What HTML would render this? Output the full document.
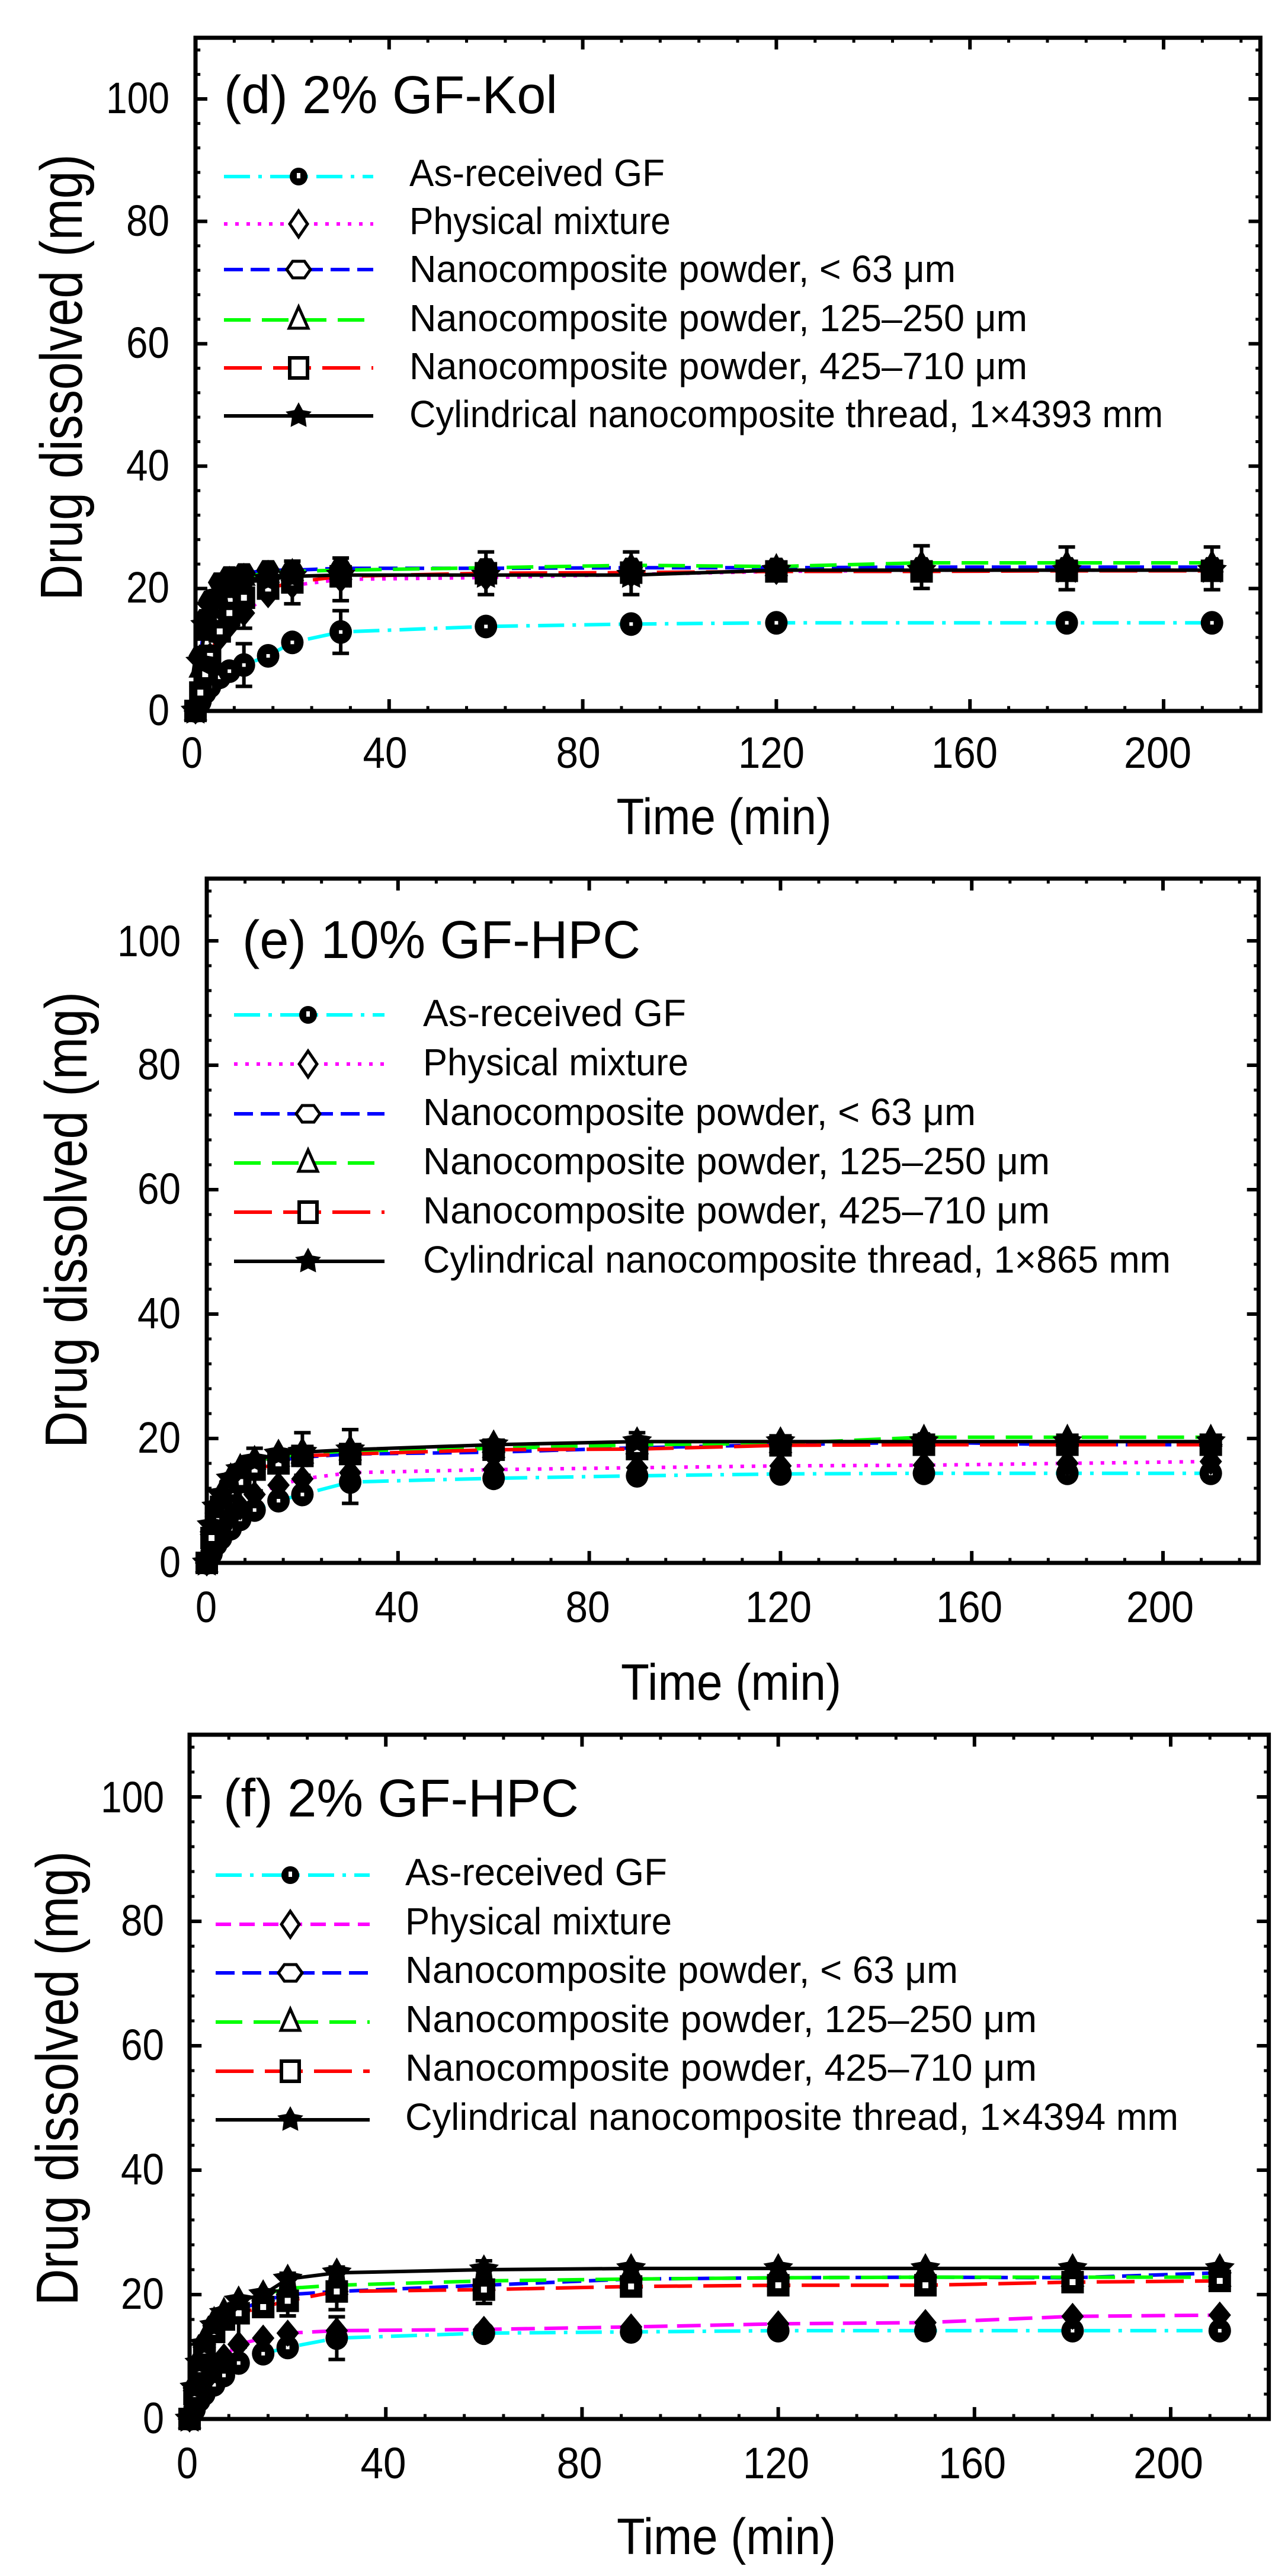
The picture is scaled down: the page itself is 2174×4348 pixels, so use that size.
<!DOCTYPE html>
<html><head><meta charset="utf-8"><style>html,body{margin:0;padding:0;background:#fff}svg{display:block}</style></head>
<body>
<svg xmlns="http://www.w3.org/2000/svg" width="2174" height="4348" viewBox="0 0 2174 4348" font-family="'Liberation Sans', Arial, sans-serif" fill="#000">
<defs>
<g id="axes" fill="none" stroke="#000">
<rect x="0" y="0" width="220" height="110" stroke-width="7" vector-effect="non-scaling-stroke"/>
<path stroke-width="6" vector-effect="non-scaling-stroke" d="M0,0V1.92M40,0V1.92M80,0V1.92M120,0V1.92M160,0V1.92M200,0V1.92M0,110V108.08M40,110V108.08M80,110V108.08M120,110V108.08M160,110V108.08M200,110V108.08M0,20H2.44M0,40H2.44M0,60H2.44M0,80H2.44M0,100H2.44M220,20H217.56M220,40H217.56M220,60H217.56M220,80H217.56M220,100H217.56"/>
<path stroke-width="5" vector-effect="non-scaling-stroke" d="M8,0V.8M16,0V.8M24,0V.8M32,0V.8M48,0V.8M56,0V.8M64,0V.8M72,0V.8M88,0V.8M96,0V.8M104,0V.8M112,0V.8M128,0V.8M136,0V.8M144,0V.8M152,0V.8M168,0V.8M176,0V.8M184,0V.8M192,0V.8M208,0V.8M216,0V.8M8,110V109.2M16,110V109.2M24,110V109.2M32,110V109.2M48,110V109.2M56,110V109.2M64,110V109.2M72,110V109.2M88,110V109.2M96,110V109.2M104,110V109.2M112,110V109.2M128,110V109.2M136,110V109.2M144,110V109.2M152,110V109.2M168,110V109.2M176,110V109.2M184,110V109.2M192,110V109.2M208,110V109.2M216,110V109.2M0,4H1M0,8H1M0,12H1M0,16H1M0,24H1M0,28H1M0,32H1M0,36H1M0,44H1M0,48H1M0,52H1M0,56H1M0,64H1M0,68H1M0,72H1M0,76H1M0,84H1M0,88H1M0,92H1M0,96H1M0,104H1M0,108H1M220,4H219M220,8H219M220,12H219M220,16H219M220,24H219M220,28H219M220,32H219M220,36H219M220,44H219M220,48H219M220,52H219M220,56H219M220,64H219M220,68H219M220,72H219M220,76H219M220,84H219M220,88H219M220,92H219M220,96H219M220,104H219M220,108H219"/>
</g>
<g id="mC"><ellipse rx="19" ry="20" fill="#000"/><rect x="-3" y="-3" width="6" height="6" fill="#fff"/></g>
<path id="mD" d="M0,-23L19,0L0,23L-19,0Z" fill="#000"/>
<path id="mH" d="M-20,0L-10,-17L10,-17L20,0L10,17L-10,17Z" fill="#000"/>
<path id="mT" d="M0,-23L20,16L-20,16Z" fill="#000"/>
<g id="mQ"><rect x="-19" y="-19" width="38" height="38" fill="#000"/><rect x="-5" y="-5" width="10" height="10" fill="#fff"/></g>
<path id="mS" d="M0,-26L8.2,-11.2L25.2,-8.2L13.1,4.3L15.5,21.4L0,13.8L-15.5,21.4L-13.1,4.3L-25.2,-8.2L-8.2,-11.2Z" fill="#000"/>
<path id="mE" d="M0,-36V36M-14,-36H14M-14,36H14" stroke="#000" stroke-width="6" fill="none"/>
<g id="lC"><circle r="15" fill="#000"/><rect x="-3" y="-6" width="6" height="9" fill="#fff"/></g>
<path id="lD" d="M0,-22L15,0L0,22L-15,0Z" fill="#fff" stroke="#000" stroke-width="5"/>
<path id="lH" d="M-20,0L-10,-14L10,-14L20,0L10,14L-10,14Z" fill="#fff" stroke="#000" stroke-width="5"/>
<path id="lT" d="M0,-22L16,14L-16,14Z" fill="#fff" stroke="#000" stroke-width="5"/>
<rect id="lQ" x="-15" y="-17" width="30" height="34" fill="#fff" stroke="#000" stroke-width="6"/>
<path id="lS" d="M0,-23L7.1,-9.7L21.9,-7.1L11.4,3.7L13.5,18.6L0,12L-13.5,18.6L-11.4,3.7L-21.9,-7.1L-7.1,-9.7Z" fill="#000"/>
<g id="dC"><use href="#mC" transform="scale(.1224,-.09681)"/></g>
<g id="dD"><use href="#mD" transform="scale(.1224,-.09681)"/></g>
<g id="dH"><use href="#mH" transform="scale(.1224,-.09681)"/></g>
<g id="dT"><use href="#mT" transform="scale(.1224,-.09681)"/></g>
<g id="dQ"><use href="#mQ" transform="scale(.1224,-.09681)"/></g>
<g id="dS"><use href="#mS" transform="scale(.1224,-.09681)"/></g>
<g id="dE"><use href="#mE" transform="scale(.1224,-.09681)"/></g>
<g id="eC"><use href="#mC" transform="scale(.12392,-.095238)"/></g>
<g id="eD"><use href="#mD" transform="scale(.12392,-.095238)"/></g>
<g id="eH"><use href="#mH" transform="scale(.12392,-.095238)"/></g>
<g id="eT"><use href="#mT" transform="scale(.12392,-.095238)"/></g>
<g id="eQ"><use href="#mQ" transform="scale(.12392,-.095238)"/></g>
<g id="eS"><use href="#mS" transform="scale(.12392,-.095238)"/></g>
<g id="eE"><use href="#mE" transform="scale(.12392,-.095238)"/></g>
<g id="fC"><use href="#mC" transform="scale(.12077,-.095238)"/></g>
<g id="fD"><use href="#mD" transform="scale(.12077,-.095238)"/></g>
<g id="fH"><use href="#mH" transform="scale(.12077,-.095238)"/></g>
<g id="fT"><use href="#mT" transform="scale(.12077,-.095238)"/></g>
<g id="fQ"><use href="#mQ" transform="scale(.12077,-.095238)"/></g>
<g id="fS"><use href="#mS" transform="scale(.12077,-.095238)"/></g>
<g id="fE"><use href="#mE" transform="scale(.12077,-.095238)"/></g>
</defs>

<!-- ================= PANEL D ================= -->
<g transform="translate(330,1200) scale(8.17,-10.33)">
<use href="#axes"/>
<g fill="none" stroke-width="6">
<polyline vector-effect="non-scaling-stroke" stroke="#00ffff" stroke-dasharray="44 14 6 14" points="0,0 1,1.5 2,3 3,4 5,5.5 7,6.5 10,7.5 15,9 20,11.2 30,12.9 60,13.8 90,14.2 120,14.4 150,14.4 180,14.4 210,14.4"/>
<polyline vector-effect="non-scaling-stroke" stroke="#ff00ff" stroke-dasharray="6 13" points="0,0 1,4 2,7 3,9 5,12 7,14 10,16 15,19 20,20.5 30,21.5 60,21.8 90,22.3 120,22.8 150,23 180,23 210,23"/>
<polyline vector-effect="non-scaling-stroke" stroke="#0000ff" stroke-dasharray="32 13" points="0,0 1,9 2,15 3,18 5,21 7,22 10,22.5 15,23 20,23 30,23.3 60,23.3 90,23.4 120,23.4 150,23.5 180,23.5 210,23.5"/>
<polyline vector-effect="non-scaling-stroke" stroke="#00ff00" stroke-dasharray="45 19" points="0,0 1,7 2,13 3,17 5,20 7,21.5 10,22 15,22.5 20,22.8 30,23 60,23.4 90,23.8 120,23.6 150,24.2 180,24.2 210,24.2"/>
<polyline vector-effect="non-scaling-stroke" stroke="#ff0000" stroke-dasharray="64 19" points="0,0 1,3 2,6 3,9 5,13 7,16 10,18.5 15,20 20,21 30,22 60,22.5 90,22.6 120,22.8 150,22.8 180,22.9 210,22.9"/>
<polyline vector-effect="non-scaling-stroke" stroke="#000" points="0,0 1,8 2,14 3,17 5,19 7,20 10,21 15,21.5 20,22 30,22.2 60,22.2 90,22.2 120,23 150,23 180,23 210,23"/>
</g>
<use href="#dE" x="10" y="17"/><use href="#dE" x="30" y="21.5"/><use href="#dE" x="20" y="21"/><use href="#dE" x="60" y="22.5"/><use href="#dE" x="90" y="22.5"/><use href="#dE" x="150" y="23.5"/><use href="#dE" x="180" y="23.3"/><use href="#dE" x="210" y="23.3"/><use href="#dE" x="30" y="12.9"/><use href="#dE" x="10" y="7.5"/>
<use href="#dC" x="0" y="0"/><use href="#dC" x="1" y="1.5"/><use href="#dC" x="2" y="3"/><use href="#dC" x="3" y="4"/><use href="#dC" x="5" y="5.5"/><use href="#dC" x="7" y="6.5"/><use href="#dC" x="10" y="7.5"/><use href="#dC" x="15" y="9"/><use href="#dC" x="20" y="11.2"/><use href="#dC" x="30" y="12.9"/><use href="#dC" x="60" y="13.8"/><use href="#dC" x="90" y="14.2"/><use href="#dC" x="120" y="14.4"/><use href="#dC" x="180" y="14.4"/><use href="#dC" x="210" y="14.4"/>
<use href="#dD" x="0" y="0"/><use href="#dD" x="1" y="4"/><use href="#dD" x="2" y="7"/><use href="#dD" x="3" y="9"/><use href="#dD" x="5" y="12"/><use href="#dD" x="7" y="14"/><use href="#dD" x="10" y="16"/><use href="#dD" x="15" y="19"/><use href="#dD" x="20" y="20.5"/><use href="#dD" x="30" y="21.5"/><use href="#dD" x="60" y="21.8"/><use href="#dD" x="90" y="22.3"/><use href="#dD" x="120" y="22.8"/><use href="#dD" x="150" y="23"/><use href="#dD" x="180" y="23"/><use href="#dD" x="210" y="23"/>
<use href="#dH" x="0" y="0"/><use href="#dH" x="1" y="9"/><use href="#dH" x="2" y="15"/><use href="#dH" x="3" y="18"/><use href="#dH" x="5" y="21"/><use href="#dH" x="7" y="22"/><use href="#dH" x="10" y="22.5"/><use href="#dH" x="15" y="23"/><use href="#dH" x="20" y="23"/><use href="#dH" x="30" y="23.3"/><use href="#dH" x="60" y="23.3"/><use href="#dH" x="90" y="23.4"/><use href="#dH" x="120" y="23.4"/><use href="#dH" x="150" y="23.5"/><use href="#dH" x="180" y="23.5"/><use href="#dH" x="210" y="23.5"/>
<use href="#dT" x="0" y="0"/><use href="#dT" x="1" y="7"/><use href="#dT" x="2" y="13"/><use href="#dT" x="3" y="17"/><use href="#dT" x="5" y="20"/><use href="#dT" x="7" y="21.5"/><use href="#dT" x="10" y="22"/><use href="#dT" x="15" y="22.5"/><use href="#dT" x="20" y="22.8"/><use href="#dT" x="30" y="23"/><use href="#dT" x="60" y="23.4"/><use href="#dT" x="90" y="23.8"/><use href="#dT" x="120" y="23.6"/><use href="#dT" x="150" y="24.2"/><use href="#dT" x="180" y="24.2"/><use href="#dT" x="210" y="24.2"/>
<use href="#dQ" x="0" y="0"/><use href="#dQ" x="1" y="3"/><use href="#dQ" x="2" y="6"/><use href="#dQ" x="3" y="9"/><use href="#dQ" x="5" y="13"/><use href="#dQ" x="7" y="16"/><use href="#dQ" x="10" y="18.5"/><use href="#dQ" x="15" y="20"/><use href="#dQ" x="20" y="21"/><use href="#dQ" x="30" y="22"/><use href="#dQ" x="60" y="22.5"/><use href="#dQ" x="90" y="22.6"/><use href="#dQ" x="120" y="22.8"/><use href="#dQ" x="150" y="22.8"/><use href="#dQ" x="180" y="22.9"/><use href="#dQ" x="210" y="22.9"/>
<use href="#dS" x="0" y="0"/><use href="#dS" x="1" y="8"/><use href="#dS" x="2" y="14"/><use href="#dS" x="3" y="17"/><use href="#dS" x="5" y="19"/><use href="#dS" x="7" y="20"/><use href="#dS" x="10" y="21"/><use href="#dS" x="15" y="21.5"/><use href="#dS" x="20" y="22"/><use href="#dS" x="30" y="22.2"/><use href="#dS" x="60" y="22.2"/><use href="#dS" x="90" y="22.2"/><use href="#dS" x="120" y="23"/><use href="#dS" x="150" y="23"/><use href="#dS" x="180" y="23"/><use href="#dS" x="210" y="23"/>
</g>
<g font-size="74">
<text x="286" y="1224" text-anchor="end" textLength="36" lengthAdjust="spacingAndGlyphs">0</text>
<text x="286" y="1017" text-anchor="end" textLength="73" lengthAdjust="spacingAndGlyphs">20</text>
<text x="286" y="811" text-anchor="end" textLength="73" lengthAdjust="spacingAndGlyphs">40</text>
<text x="286" y="604" text-anchor="end" textLength="73" lengthAdjust="spacingAndGlyphs">60</text>
<text x="286" y="398" text-anchor="end" textLength="73" lengthAdjust="spacingAndGlyphs">80</text>
<text x="286" y="191" text-anchor="end" textLength="107" lengthAdjust="spacingAndGlyphs">100</text>
<text x="324" y="1296" text-anchor="middle" textLength="36" lengthAdjust="spacingAndGlyphs">0</text>
<text x="650" y="1296" text-anchor="middle" textLength="75" lengthAdjust="spacingAndGlyphs">40</text>
<text x="976" y="1296" text-anchor="middle" textLength="75" lengthAdjust="spacingAndGlyphs">80</text>
<text x="1302" y="1296" text-anchor="middle" textLength="112" lengthAdjust="spacingAndGlyphs">120</text>
<text x="1628" y="1296" text-anchor="middle" textLength="112" lengthAdjust="spacingAndGlyphs">160</text>
<text x="1954" y="1296" text-anchor="middle" textLength="114" lengthAdjust="spacingAndGlyphs">200</text>
</g>
<text x="1222" y="1408" font-size="86" text-anchor="middle" textLength="363" lengthAdjust="spacingAndGlyphs">Time (min)</text>
<text transform="translate(138,637) rotate(-90)" font-size="100" text-anchor="middle" textLength="753" lengthAdjust="spacingAndGlyphs">Drug dissolved (mg)</text>
<text x="378" y="191" font-size="90" textLength="563" lengthAdjust="spacingAndGlyphs">(d) 2% GF-Kol</text>
<g fill="none" stroke-width="6">
<line x1="378" y1="298" x2="630" y2="298" stroke="#00ffff" stroke-dasharray="44 14 6 14"/>
<line x1="378" y1="378" x2="630" y2="378" stroke="#ff00ff" stroke-dasharray="6 13"/>
<line x1="378" y1="455" x2="630" y2="455" stroke="#0000ff" stroke-dasharray="32 13"/>
<line x1="378" y1="540" x2="630" y2="540" stroke="#00ff00" stroke-dasharray="45 19"/>
<line x1="378" y1="621" x2="630" y2="621" stroke="#ff0000" stroke-dasharray="64 19"/>
<line x1="378" y1="702" x2="630" y2="702" stroke="#000"/>
</g>
<use href="#lC" x="504" y="298"/><use href="#lD" x="504" y="378"/><use href="#lH" x="504" y="455"/><use href="#lT" x="504" y="540"/><use href="#lQ" x="504" y="621"/><use href="#lS" x="504" y="702"/>
<g font-size="64">
<text x="691" y="314" textLength="431" lengthAdjust="spacingAndGlyphs">As-received GF</text>
<text x="691" y="395" textLength="441" lengthAdjust="spacingAndGlyphs">Physical mixture</text>
<text x="691" y="476" textLength="922" lengthAdjust="spacingAndGlyphs">Nanocomposite powder, &lt; 63 μm</text>
<text x="691" y="559" textLength="1043" lengthAdjust="spacingAndGlyphs">Nanocomposite powder, 125–250 μm</text>
<text x="691" y="640" textLength="1043" lengthAdjust="spacingAndGlyphs">Nanocomposite powder, 425–710 μm</text>
<text x="691" y="721" textLength="1272" lengthAdjust="spacingAndGlyphs">Cylindrical nanocomposite thread, 1×4393 mm</text>
</g>

<!-- ================= PANEL E ================= -->
<g transform="translate(349,2638) scale(8.07,-10.5)">
<use href="#axes"/>
<g fill="none" stroke-width="6">
<polyline vector-effect="non-scaling-stroke" stroke="#00ffff" stroke-dasharray="44 14 6 14" points="0,0 1,1.5 2,3 3,4 5,5.5 7,7 10,8.5 15,10 20,11 30,13 60,13.6 90,14 120,14.3 150,14.4 180,14.4 210,14.4"/>
<polyline vector-effect="non-scaling-stroke" stroke="#ff00ff" stroke-dasharray="6 13" points="0,0 1,2 2,4 3,5.5 5,7.5 7,9 10,11 15,12.5 20,13.5 30,14.5 60,15 90,15.3 120,15.6 150,15.7 180,16 210,16.3"/>
<polyline vector-effect="non-scaling-stroke" stroke="#0000ff" stroke-dasharray="32 13" points="0,0 1,5 2,8 3,10 5,13 7,14.5 10,15.5 15,16.5 20,17 30,17.5 60,17.8 90,18.5 120,19 150,19.4 180,19 210,19"/>
<polyline vector-effect="non-scaling-stroke" stroke="#00ff00" stroke-dasharray="45 19" points="0,0 1,6 2,9 3,11 5,14 7,15.5 10,16.5 15,17 20,17.5 30,18 60,18.4 90,19 120,19.2 150,20.2 180,20.2 210,20.2"/>
<polyline vector-effect="non-scaling-stroke" stroke="#ff0000" stroke-dasharray="64 19" points="0,0 1,4 2,7 3,9 5,11.5 7,13 10,15 15,16 20,17.2 30,17.5 60,18.2 90,18.3 120,18.9 150,19 180,19 210,19"/>
<polyline vector-effect="non-scaling-stroke" stroke="#000" points="0,0 1,6 2,9 3,11 5,13.5 7,15 10,16.5 15,17.5 20,17.8 30,18.2 60,19 90,19.5 120,19.5 150,19.5 180,19.5 210,19.5"/>
</g>
<use href="#eE" x="30" y="13"/><use href="#eE" x="30" y="18"/><use href="#eE" x="20" y="17.5"/><use href="#eE" x="90" y="17.5"/><use href="#eE" x="150" y="17"/><use href="#eE" x="10" y="15"/>
<use href="#eC" x="0" y="0"/><use href="#eC" x="1" y="1.5"/><use href="#eC" x="2" y="3"/><use href="#eC" x="3" y="4"/><use href="#eC" x="5" y="5.5"/><use href="#eC" x="7" y="7"/><use href="#eC" x="10" y="8.5"/><use href="#eC" x="15" y="10"/><use href="#eC" x="20" y="11"/><use href="#eC" x="30" y="13"/><use href="#eC" x="60" y="13.6"/><use href="#eC" x="90" y="14"/><use href="#eC" x="120" y="14.3"/><use href="#eC" x="150" y="14.4"/><use href="#eC" x="180" y="14.4"/><use href="#eC" x="210" y="14.4"/>
<use href="#eD" x="0" y="0"/><use href="#eD" x="1" y="2"/><use href="#eD" x="2" y="4"/><use href="#eD" x="3" y="5.5"/><use href="#eD" x="5" y="7.5"/><use href="#eD" x="7" y="9"/><use href="#eD" x="10" y="11"/><use href="#eD" x="15" y="12.5"/><use href="#eD" x="20" y="13.5"/><use href="#eD" x="30" y="14.5"/><use href="#eD" x="60" y="15"/><use href="#eD" x="90" y="15.3"/><use href="#eD" x="120" y="15.6"/><use href="#eD" x="150" y="15.7"/><use href="#eD" x="180" y="16"/><use href="#eD" x="210" y="16.3"/>
<use href="#eH" x="0" y="0"/><use href="#eH" x="1" y="5"/><use href="#eH" x="2" y="8"/><use href="#eH" x="3" y="10"/><use href="#eH" x="5" y="13"/><use href="#eH" x="7" y="14.5"/><use href="#eH" x="10" y="15.5"/><use href="#eH" x="15" y="16.5"/><use href="#eH" x="20" y="17"/><use href="#eH" x="30" y="17.5"/><use href="#eH" x="60" y="17.8"/><use href="#eH" x="90" y="18.5"/><use href="#eH" x="120" y="19"/><use href="#eH" x="150" y="19.4"/><use href="#eH" x="180" y="19"/><use href="#eH" x="210" y="19"/>
<use href="#eT" x="0" y="0"/><use href="#eT" x="1" y="6"/><use href="#eT" x="2" y="9"/><use href="#eT" x="3" y="11"/><use href="#eT" x="5" y="14"/><use href="#eT" x="7" y="15.5"/><use href="#eT" x="10" y="16.5"/><use href="#eT" x="15" y="17"/><use href="#eT" x="20" y="17.5"/><use href="#eT" x="30" y="18"/><use href="#eT" x="60" y="18.4"/><use href="#eT" x="90" y="19"/><use href="#eT" x="120" y="19.2"/><use href="#eT" x="150" y="20.2"/><use href="#eT" x="180" y="20.2"/><use href="#eT" x="210" y="20.2"/>
<use href="#eQ" x="0" y="0"/><use href="#eQ" x="1" y="4"/><use href="#eQ" x="2" y="7"/><use href="#eQ" x="3" y="9"/><use href="#eQ" x="5" y="11.5"/><use href="#eQ" x="7" y="13"/><use href="#eQ" x="10" y="15"/><use href="#eQ" x="15" y="16"/><use href="#eQ" x="20" y="17.2"/><use href="#eQ" x="30" y="17.5"/><use href="#eQ" x="60" y="18.2"/><use href="#eQ" x="90" y="18.3"/><use href="#eQ" x="120" y="18.9"/><use href="#eQ" x="150" y="19"/><use href="#eQ" x="180" y="19"/><use href="#eQ" x="210" y="19"/>
<use href="#eS" x="0" y="0"/><use href="#eS" x="1" y="6"/><use href="#eS" x="2" y="9"/><use href="#eS" x="3" y="11"/><use href="#eS" x="5" y="13.5"/><use href="#eS" x="7" y="15"/><use href="#eS" x="10" y="16.5"/><use href="#eS" x="15" y="17.5"/><use href="#eS" x="20" y="17.8"/><use href="#eS" x="30" y="18.2"/><use href="#eS" x="60" y="19"/><use href="#eS" x="90" y="19.5"/><use href="#eS" x="120" y="19.5"/><use href="#eS" x="150" y="19.5"/><use href="#eS" x="180" y="19.5"/><use href="#eS" x="210" y="19.5"/>
</g>
<g font-size="74">
<text x="305" y="2662" text-anchor="end" textLength="36" lengthAdjust="spacingAndGlyphs">0</text>
<text x="305" y="2452" text-anchor="end" textLength="73" lengthAdjust="spacingAndGlyphs">20</text>
<text x="305" y="2242" text-anchor="end" textLength="73" lengthAdjust="spacingAndGlyphs">40</text>
<text x="305" y="2032" text-anchor="end" textLength="73" lengthAdjust="spacingAndGlyphs">60</text>
<text x="305" y="1822" text-anchor="end" textLength="73" lengthAdjust="spacingAndGlyphs">80</text>
<text x="305" y="1614" text-anchor="end" textLength="107" lengthAdjust="spacingAndGlyphs">100</text>
<text x="348" y="2738" text-anchor="middle" textLength="36" lengthAdjust="spacingAndGlyphs">0</text>
<text x="670" y="2738" text-anchor="middle" textLength="75" lengthAdjust="spacingAndGlyphs">40</text>
<text x="992" y="2738" text-anchor="middle" textLength="75" lengthAdjust="spacingAndGlyphs">80</text>
<text x="1314" y="2738" text-anchor="middle" textLength="112" lengthAdjust="spacingAndGlyphs">120</text>
<text x="1636" y="2738" text-anchor="middle" textLength="112" lengthAdjust="spacingAndGlyphs">160</text>
<text x="1958" y="2738" text-anchor="middle" textLength="114" lengthAdjust="spacingAndGlyphs">200</text>
</g>
<text x="1234" y="2869" font-size="86" text-anchor="middle" textLength="372" lengthAdjust="spacingAndGlyphs">Time (min)</text>
<text transform="translate(146,2059) rotate(-90)" font-size="100" text-anchor="middle" textLength="770" lengthAdjust="spacingAndGlyphs">Drug dissolved (mg)</text>
<text x="409" y="1617" font-size="90" textLength="672" lengthAdjust="spacingAndGlyphs">(e) 10% GF-HPC</text>
<g fill="none" stroke-width="6">
<line x1="395" y1="1713" x2="649" y2="1713" stroke="#00ffff" stroke-dasharray="44 14 6 14"/>
<line x1="395" y1="1796" x2="649" y2="1796" stroke="#ff00ff" stroke-dasharray="6 13"/>
<line x1="395" y1="1880" x2="649" y2="1880" stroke="#0000ff" stroke-dasharray="32 13"/>
<line x1="395" y1="1963" x2="649" y2="1963" stroke="#00ff00" stroke-dasharray="45 19"/>
<line x1="395" y1="2046" x2="649" y2="2046" stroke="#ff0000" stroke-dasharray="64 19"/>
<line x1="395" y1="2129" x2="649" y2="2129" stroke="#000"/>
</g>
<use href="#lC" x="520" y="1713"/><use href="#lD" x="520" y="1796"/><use href="#lH" x="520" y="1880"/><use href="#lT" x="520" y="1963"/><use href="#lQ" x="520" y="2046"/><use href="#lS" x="520" y="2129"/>
<g font-size="64">
<text x="714" y="1732" textLength="444" lengthAdjust="spacingAndGlyphs">As-received GF</text>
<text x="714" y="1815" textLength="448" lengthAdjust="spacingAndGlyphs">Physical mixture</text>
<text x="714" y="1899" textLength="933" lengthAdjust="spacingAndGlyphs">Nanocomposite powder, &lt; 63 μm</text>
<text x="714" y="1982" textLength="1058" lengthAdjust="spacingAndGlyphs">Nanocomposite powder, 125–250 μm</text>
<text x="714" y="2065" textLength="1058" lengthAdjust="spacingAndGlyphs">Nanocomposite powder, 425–710 μm</text>
<text x="714" y="2148" textLength="1262" lengthAdjust="spacingAndGlyphs">Cylindrical nanocomposite thread, 1×865 mm</text>
</g>

<!-- ================= PANEL F ================= -->
<g transform="translate(320,4083) scale(8.28,-10.5)">
<use href="#axes"/>
<g fill="none" stroke-width="6">
<polyline vector-effect="non-scaling-stroke" stroke="#00ffff" stroke-dasharray="44 14 6 14" points="0,0 1,1.5 2,3 3,4 5,5.5 7,7 10,9 15,10.5 20,11.5 30,13 60,13.8 90,14 120,14.2 150,14.2 180,14.2 210,14.2"/>
<polyline vector-effect="non-scaling-stroke" stroke="#ff00ff" stroke-dasharray="40 16" points="0,0 1,2 2,4 3,6 5,8 7,10 10,12 15,13 20,13.8 30,14.2 60,14.4 90,14.8 120,15.3 150,15.5 180,16.5 210,16.7"/>
<polyline vector-effect="non-scaling-stroke" stroke="#0000ff" stroke-dasharray="32 13" points="0,0 1,5 2,9 3,12 5,15 7,16.5 10,17.5 15,19 20,20 30,20.5 60,21.5 90,22.5 120,22.7 150,22.8 180,22.7 210,23.5"/>
<polyline vector-effect="non-scaling-stroke" stroke="#00ff00" stroke-dasharray="45 19" points="0,0 1,6 2,10 3,13 5,16 7,17.5 10,19 15,20 20,21 30,21.5 60,22.2 90,22.5 120,22.7 150,22.8 180,22.8 210,22.8"/>
<polyline vector-effect="non-scaling-stroke" stroke="#ff0000" stroke-dasharray="64 19" points="0,0 1,4 2,8 3,11 5,14 7,16 10,17 15,18 20,19 30,20.5 60,20.8 90,21.3 120,21.5 150,21.5 180,22 210,22.2"/>
<polyline vector-effect="non-scaling-stroke" stroke="#000" points="0,0 1,5 2,9 3,12 5,15 7,17 10,19 15,20 20,22.5 30,23.5 60,24 90,24.2 120,24.2 150,24.2 180,24.2 210,24.2"/>
</g>
<use href="#fE" x="10" y="15"/><use href="#fE" x="30" y="13"/><use href="#fE" x="20" y="20"/><use href="#fE" x="30" y="21"/><use href="#fE" x="60" y="22"/><use href="#fE" x="5" y="12"/>
<use href="#fC" x="0" y="0"/><use href="#fC" x="1" y="1.5"/><use href="#fC" x="2" y="3"/><use href="#fC" x="3" y="4"/><use href="#fC" x="5" y="5.5"/><use href="#fC" x="7" y="7"/><use href="#fC" x="10" y="9"/><use href="#fC" x="15" y="10.5"/><use href="#fC" x="20" y="11.5"/><use href="#fC" x="30" y="13"/><use href="#fC" x="60" y="13.8"/><use href="#fC" x="90" y="14"/><use href="#fC" x="120" y="14.2"/><use href="#fC" x="150" y="14.2"/><use href="#fC" x="180" y="14.2"/><use href="#fC" x="210" y="14.2"/>
<use href="#fD" x="0" y="0"/><use href="#fD" x="1" y="2"/><use href="#fD" x="2" y="4"/><use href="#fD" x="3" y="6"/><use href="#fD" x="5" y="8"/><use href="#fD" x="7" y="10"/><use href="#fD" x="10" y="12"/><use href="#fD" x="15" y="13"/><use href="#fD" x="20" y="13.8"/><use href="#fD" x="30" y="14.2"/><use href="#fD" x="60" y="14.4"/><use href="#fD" x="90" y="14.8"/><use href="#fD" x="120" y="15.3"/><use href="#fD" x="150" y="15.5"/><use href="#fD" x="180" y="16.5"/><use href="#fD" x="210" y="16.7"/>
<use href="#fH" x="0" y="0"/><use href="#fH" x="1" y="5"/><use href="#fH" x="2" y="9"/><use href="#fH" x="3" y="12"/><use href="#fH" x="5" y="15"/><use href="#fH" x="7" y="16.5"/><use href="#fH" x="10" y="17.5"/><use href="#fH" x="15" y="19"/><use href="#fH" x="20" y="20"/><use href="#fH" x="30" y="20.5"/><use href="#fH" x="60" y="21.5"/><use href="#fH" x="90" y="22.5"/><use href="#fH" x="120" y="22.7"/><use href="#fH" x="150" y="22.8"/><use href="#fH" x="180" y="22.7"/><use href="#fH" x="210" y="23.5"/>
<use href="#fT" x="0" y="0"/><use href="#fT" x="1" y="6"/><use href="#fT" x="2" y="10"/><use href="#fT" x="3" y="13"/><use href="#fT" x="5" y="16"/><use href="#fT" x="7" y="17.5"/><use href="#fT" x="10" y="19"/><use href="#fT" x="15" y="20"/><use href="#fT" x="20" y="21"/><use href="#fT" x="30" y="21.5"/><use href="#fT" x="60" y="22.2"/><use href="#fT" x="90" y="22.5"/><use href="#fT" x="120" y="22.7"/><use href="#fT" x="150" y="22.8"/><use href="#fT" x="180" y="22.8"/><use href="#fT" x="210" y="22.8"/>
<use href="#fQ" x="0" y="0"/><use href="#fQ" x="1" y="4"/><use href="#fQ" x="2" y="8"/><use href="#fQ" x="3" y="11"/><use href="#fQ" x="5" y="14"/><use href="#fQ" x="7" y="16"/><use href="#fQ" x="10" y="17"/><use href="#fQ" x="15" y="18"/><use href="#fQ" x="20" y="19"/><use href="#fQ" x="30" y="20.5"/><use href="#fQ" x="60" y="20.8"/><use href="#fQ" x="90" y="21.3"/><use href="#fQ" x="120" y="21.5"/><use href="#fQ" x="150" y="21.5"/><use href="#fQ" x="180" y="22"/><use href="#fQ" x="210" y="22.2"/>
<use href="#fS" x="0" y="0"/><use href="#fS" x="1" y="5"/><use href="#fS" x="2" y="9"/><use href="#fS" x="3" y="12"/><use href="#fS" x="5" y="15"/><use href="#fS" x="7" y="17"/><use href="#fS" x="10" y="19"/><use href="#fS" x="15" y="20"/><use href="#fS" x="20" y="22.5"/><use href="#fS" x="30" y="23.5"/><use href="#fS" x="60" y="24"/><use href="#fS" x="90" y="24.2"/><use href="#fS" x="120" y="24.2"/><use href="#fS" x="150" y="24.2"/><use href="#fS" x="180" y="24.2"/><use href="#fS" x="210" y="24.2"/>
</g>
<g font-size="74">
<text x="277" y="4107" text-anchor="end" textLength="36" lengthAdjust="spacingAndGlyphs">0</text>
<text x="277" y="3897" text-anchor="end" textLength="73" lengthAdjust="spacingAndGlyphs">20</text>
<text x="277" y="3687" text-anchor="end" textLength="73" lengthAdjust="spacingAndGlyphs">40</text>
<text x="277" y="3477" text-anchor="end" textLength="73" lengthAdjust="spacingAndGlyphs">60</text>
<text x="277" y="3267" text-anchor="end" textLength="73" lengthAdjust="spacingAndGlyphs">80</text>
<text x="277" y="3059" text-anchor="end" textLength="107" lengthAdjust="spacingAndGlyphs">100</text>
<text x="316" y="4183" text-anchor="middle" textLength="36" lengthAdjust="spacingAndGlyphs">0</text>
<text x="647" y="4183" text-anchor="middle" textLength="77" lengthAdjust="spacingAndGlyphs">40</text>
<text x="978" y="4183" text-anchor="middle" textLength="77" lengthAdjust="spacingAndGlyphs">80</text>
<text x="1310" y="4183" text-anchor="middle" textLength="112" lengthAdjust="spacingAndGlyphs">120</text>
<text x="1641" y="4183" text-anchor="middle" textLength="114" lengthAdjust="spacingAndGlyphs">160</text>
<text x="1972" y="4183" text-anchor="middle" textLength="118" lengthAdjust="spacingAndGlyphs">200</text>
</g>
<text x="1226" y="4311" font-size="86" text-anchor="middle" textLength="370" lengthAdjust="spacingAndGlyphs">Time (min)</text>
<text transform="translate(131,3508) rotate(-90)" font-size="100" text-anchor="middle" textLength="767" lengthAdjust="spacingAndGlyphs">Drug dissolved (mg)</text>
<text x="377" y="3066" font-size="90" textLength="600" lengthAdjust="spacingAndGlyphs">(f) 2% GF-HPC</text>
<g fill="none" stroke-width="6">
<line x1="364" y1="3165" x2="624" y2="3165" stroke="#00ffff" stroke-dasharray="44 14 6 14"/>
<line x1="364" y1="3248" x2="624" y2="3248" stroke="#ff00ff" stroke-dasharray="26 14"/>
<line x1="364" y1="3330" x2="624" y2="3330" stroke="#0000ff" stroke-dasharray="32 13"/>
<line x1="364" y1="3413" x2="624" y2="3413" stroke="#00ff00" stroke-dasharray="45 19"/>
<line x1="364" y1="3496" x2="624" y2="3496" stroke="#ff0000" stroke-dasharray="64 19"/>
<line x1="364" y1="3578" x2="624" y2="3578" stroke="#000"/>
</g>
<use href="#lC" x="490" y="3165"/><use href="#lD" x="490" y="3248"/><use href="#lH" x="490" y="3330"/><use href="#lT" x="490" y="3413"/><use href="#lQ" x="490" y="3496"/><use href="#lS" x="490" y="3578"/>
<g font-size="64">
<text x="684" y="3182" textLength="442" lengthAdjust="spacingAndGlyphs">As-received GF</text>
<text x="684" y="3265" textLength="450" lengthAdjust="spacingAndGlyphs">Physical mixture</text>
<text x="684" y="3347" textLength="933" lengthAdjust="spacingAndGlyphs">Nanocomposite powder, &lt; 63 μm</text>
<text x="684" y="3430" textLength="1066" lengthAdjust="spacingAndGlyphs">Nanocomposite powder, 125–250 μm</text>
<text x="684" y="3512" textLength="1066" lengthAdjust="spacingAndGlyphs">Nanocomposite powder, 425–710 μm</text>
<text x="684" y="3595" textLength="1305" lengthAdjust="spacingAndGlyphs">Cylindrical nanocomposite thread, 1×4394 mm</text>
</g>
</svg>
</body></html>
